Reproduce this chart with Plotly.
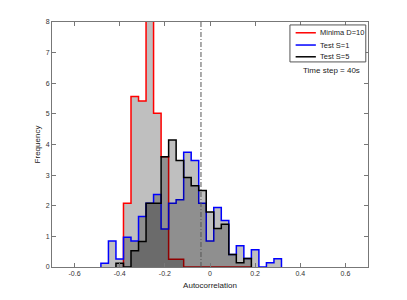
import plotly.graph_objects as go

# Bin centres are k/30 (bin width 1/30)
bin_width = 1.0 / 30.0

red_k = list(range(-11, 6))
red_vals = [2.08, 5.57, 5.42, 9.5, 5.02, 3.6, 0.25, 0.25, 0, 0, 0, 0, 0, 0, 0, 0, 0]

blue_k = list(range(-14, 10))
blue_vals = [0.12, 0.85, 0.26, 0.97, 0.85, 1.65, 2.08, 2.37, 1.24, 2.08, 2.2, 3.75,
             3.48, 2.08, 0.85, 1.94, 1.52, 0.41, 0.69, 0.28, 0.56, 0, 0.14, 0.27]

black_k = list(range(-12, 6))
black_vals = [0.12, 0, 0.53, 0.83, 2.08, 2.08, 3.6, 4.15, 3.48, 2.92, 2.65, 2.5,
              1.8, 1.26, 1.4, 0.41, 0.14, 0.28]

series = [
    ("Minima D=10", red_k, red_vals, "#ff0000"),
    ("Test S=1", blue_k, blue_vals, "#0000ff"),
    ("Test S=5", black_k, black_vals, "#000000"),
]

mean_line_x = -0.04
xtick_vals = [-0.6, -0.4, -0.2, 0, 0.2, 0.4, 0.6]
xtick_text = ["-0.6", "-0.4", "-0.2", "0", "0.2", "0.4", "0.6"]
ytick_vals = [0, 1, 2, 3, 4, 5, 6, 7, 8]

fig = go.Figure()

for name, ks, vals, color in series:
    edges = [(k - 0.5) * bin_width for k in ks] + [(ks[-1] + 0.5) * bin_width]
    xs = [edges[0]] + edges[:-1] + [edges[-1]]
    ys = [0] + vals + [0]
    fig.add_trace(go.Scatter(
        x=xs, y=ys, mode="lines", name=name, showlegend=False,
        line=dict(color=color, width=1.5, shape="hv"),
        fill="tozeroy", fillcolor="rgba(0,0,0,0.25)",
    ))

fig.add_trace(go.Scatter(
    x=[mean_line_x, mean_line_x], y=[0, 8], mode="lines", showlegend=False,
    line=dict(color="#555555", width=1, dash="5px,2px,1px,2px"),
))

font_family = "Liberation Sans, Arial, sans-serif"
axis_common = dict(
    showline=True, linecolor="#777777", linewidth=1, mirror="allticks",
    ticks="inside", ticklen=4, tickcolor="#777777",
    showgrid=False, zeroline=False, automargin=False,
    tickfont=dict(family=font_family, size=7, color="#333333"),
)

# legend drawn as a boxed key (paper coordinates)
shapes = [dict(type="rect", xref="paper", yref="paper", x0=0.753, x1=0.993,
               y0=0.837, y1=0.988, line=dict(color="#555555", width=1),
               fillcolor="white", layer="above")]
annotations = []
legend_y = [0.956, 0.906, 0.858]
for (name, ks, vals, color), ly in zip(series, legend_y):
    shapes.append(dict(type="line", xref="paper", yref="paper", x0=0.771, x1=0.835,
                       y0=ly, y1=ly, line=dict(color=color, width=1.5), layer="above"))
    annotations.append(dict(text=name, xref="paper", yref="paper", x=0.842, y=ly,
                            xanchor="left", yanchor="middle", showarrow=False,
                            font=dict(family=font_family, size=7.5, color="#222222")))
annotations.append(dict(text="Time step = 40s", xref="paper", yref="paper",
                        x=0.98, y=0.804, xanchor="right", yanchor="middle",
                        showarrow=False,
                        font=dict(family=font_family, size=8, color="#222222")))

fig.update_layout(
    width=407, height=300,
    margin=dict(l=52, r=39, t=22, b=33),
    paper_bgcolor="white", plot_bgcolor="white",
    font=dict(family=font_family, color="#222222"),
    xaxis=dict(range=[-0.7, 0.7], tickvals=xtick_vals, ticktext=xtick_text,
               title=dict(text="Autocorrelation", font=dict(size=8, color="#222222"), standoff=5),
               **axis_common),
    yaxis=dict(range=[0, 8], tickvals=ytick_vals,
               title=dict(text="Frequency", font=dict(size=8, color="#222222"), standoff=3),
               **axis_common),
    showlegend=False,
    shapes=shapes,
    annotations=annotations,
)

fig.write_html("out.html", config={"displayModeBar": False},
               post_script="document.body.style.margin='0';")
